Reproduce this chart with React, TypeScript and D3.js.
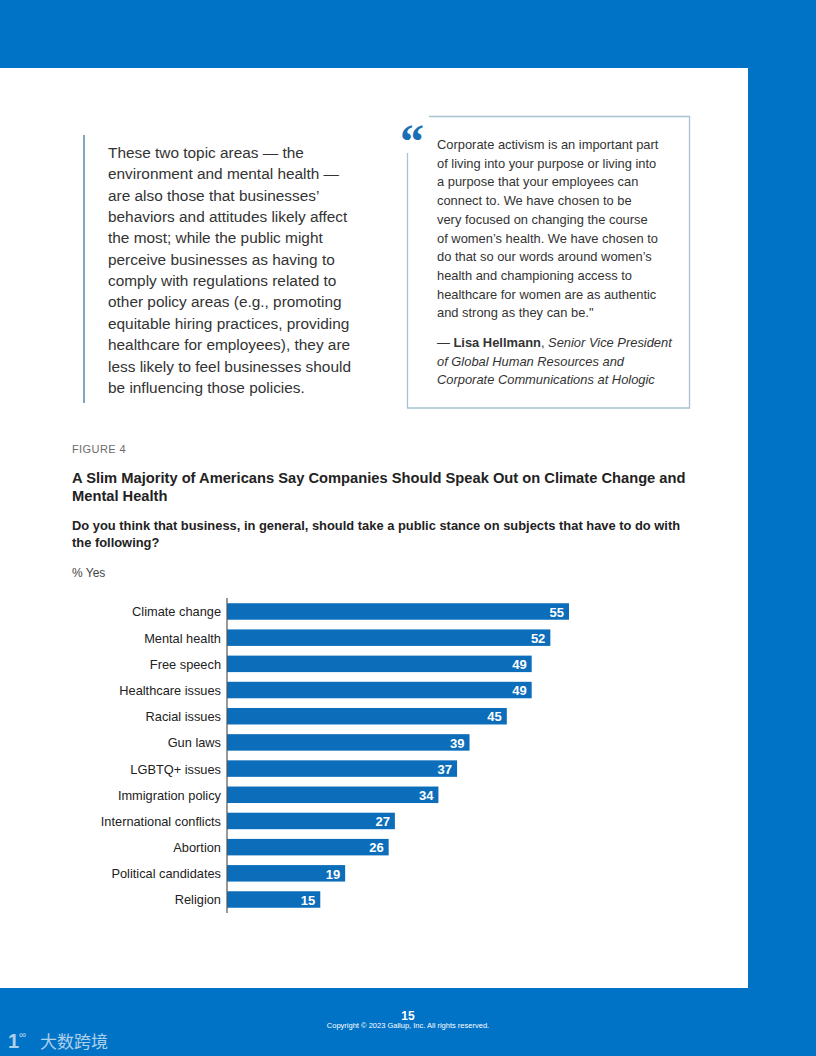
import React from "react";
import * as d3 from "d3";

const categories = [
  "Climate change",
  "Mental health",
  "Free speech",
  "Healthcare issues",
  "Racial issues",
  "Gun laws",
  "LGBTQ+ issues",
  "Immigration policy",
  "International conflicts",
  "Abortion",
  "Political candidates",
  "Religion",
];
const values = [55, 52, 49, 49, 45, 39, 37, 34, 27, 26, 19, 15];

const leftParagraph = [
  "These two topic areas — the",
  "environment and mental health —",
  "are also those that businesses’",
  "behaviors and attitudes likely affect",
  "the most; while the public might",
  "perceive businesses as having to",
  "comply with regulations related to",
  "other policy areas (e.g., promoting",
  "equitable hiring practices, providing",
  "healthcare for employees), they are",
  "less likely to feel businesses should",
  "be influencing those policies.",
];

const quoteLines = [
  "Corporate activism is an important part",
  "of living into your purpose or living into",
  "a purpose that your employees can",
  "connect to. We have chosen to be",
  "very focused on changing the course",
  "of women’s health. We have chosen to",
  "do that so our words around women’s",
  "health and championing access to",
  "healthcare for women are as authentic",
  "and strong as they can be.\"",
];

const titleLines = [
  "A Slim Majority of Americans Say Companies Should Speak Out on Climate Change and",
  "Mental Health",
];
const subtitleLines = [
  "Do you think that business, in general, should take a public stance on subjects that have to do with",
  "the following?",
];

const FONT = "'Liberation Sans', Arial, Helvetica, sans-serif";
const PAGE_BLUE = "#0073c7";
const BAR_BLUE = "#0c6eba";

export default function App() {
  const x = d3.scaleLinear().domain([0, 55]).range([227, 569]);
  const y = d3
    .scaleBand<string>()
    .domain(categories)
    .range([598, 913])
    .paddingInner(0.37)
    .paddingOuter(0.2);

  return (
    <svg
      width={816}
      height={1056}
      style={{ position: "absolute", left: 0, top: 0 }}
      fontFamily={FONT}
    >
      <rect x={0} y={0} width={816} height={1056} fill={PAGE_BLUE} />
      <rect x={0} y={68} width={748} height={920} fill="#ffffff" />

      {/* left paragraph */}
      <line x1={84} x2={84} y1={135} y2={403} stroke="#7fa7b8" strokeWidth={2} />
      {leftParagraph.map((t, i) => (
        <text key={i} x={108} y={158 + i * 21.35} fontSize={15.4} fill="#333333">
          {t}
        </text>
      ))}

      {/* quote box */}
      <path
        d="M429,116.5 H689.5 V408 H407.5 V153"
        fill="none"
        stroke="#a8c2d2"
        strokeWidth={1.3}
      />
      <text
        x={400}
        y={158}
        fontSize={48}
        fontWeight="bold"
        fill="#1a6fb5"
        fontFamily="'Liberation Serif', 'Times New Roman', serif"
      >
        “
      </text>
      {quoteLines.map((t, i) => (
        <text key={i} x={437} y={149 + i * 18.7} fontSize={12.9} fill="#333333">
          {t}
        </text>
      ))}
      <text x={437} y={347} fontSize={12.9} fill="#333333">
        <tspan>— </tspan>
        <tspan fontWeight="bold">Lisa Hellmann</tspan>
        <tspan>, </tspan>
        <tspan fontStyle="italic">Senior Vice President</tspan>
      </text>
      <text x={437} y={365.7} fontSize={12.9} fill="#333333" fontStyle="italic">
        of Global Human Resources and
      </text>
      <text x={437} y={384.4} fontSize={12.9} fill="#333333" fontStyle="italic">
        Corporate Communications at Hologic
      </text>

      {/* figure heading */}
      <text x={72} y={453} fontSize={11} fill="#6b6b6b" letterSpacing={0.4}>
        FIGURE 4
      </text>
      {titleLines.map((t, i) => (
        <text key={i} x={72} y={483 + i * 18} fontSize={14.7} fontWeight="bold" fill="#222222">
          {t}
        </text>
      ))}
      {subtitleLines.map((t, i) => (
        <text key={i} x={72} y={529.5 + i * 17.5} fontSize={12.9} fontWeight="bold" fill="#222222">
          {t}
        </text>
      ))}
      <text x={72} y={576.5} fontSize={12} fill="#444444">
        % Yes
      </text>

      {/* bars */}
      {categories.map((c, i) => {
        const yy = y(c)!;
        const bw = y.bandwidth();
        return (
          <g key={c}>
            <rect x={x(0)} y={yy} width={x(values[i]) - x(0)} height={bw} fill={BAR_BLUE} />
            <text
              x={221}
              y={yy + bw / 2 + 0.5}
              dy="0.35em"
              textAnchor="end"
              fontSize={12.8}
              fill="#222222"
            >
              {c}
            </text>
            <text
              x={x(values[i]) - 5}
              y={yy + bw / 2 + 0.5}
              dy="0.36em"
              textAnchor="end"
              fontSize={13}
              fontWeight="bold"
              fill="#ffffff"
            >
              {values[i]}
            </text>
          </g>
        );
      })}
      <line x1={227} x2={227} y1={598} y2={913} stroke="#555555" strokeWidth={1.2} />

      {/* footer */}
      <text x={408} y={1020} textAnchor="middle" fontSize={12} fontWeight="bold" fill="#ffffff">
        15
      </text>
      <text x={408} y={1028} textAnchor="middle" fontSize={7.5} fill="#ffffff">
        Copyright © 2023 Gallup, Inc. All rights reserved.
      </text>

      {/* watermark */}
      <g opacity={0.75} fill="#e6eef6">
        <text x={8} y={1048} fontSize={20} fontWeight="bold">1</text>
        <text x={19} y={1038} fontSize={10}>∞</text>
        <text x={40} y={1048} fontSize={17} fontFamily="'Noto Sans CJK SC', sans-serif">
          大数跨境
        </text>
      </g>
    </svg>
  );
}
